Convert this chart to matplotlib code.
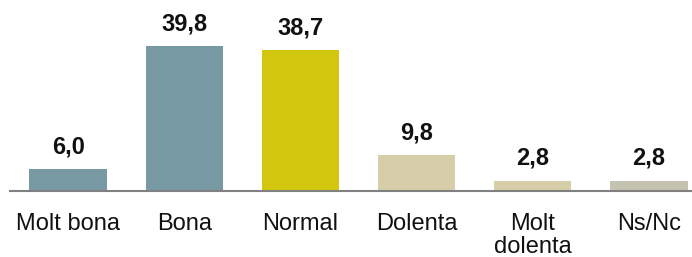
import matplotlib
matplotlib.use('Agg')
import matplotlib.pyplot as plt

plt.rcParams['font.family'] = ['Liberation Sans', 'DejaVu Sans']

categories = ['Molt bona', 'Bona', 'Normal', 'Dolenta', 'Molt\ndolenta', 'Ns/Nc']
values = [6.0, 39.8, 38.7, 9.8, 2.8, 2.8]
colors = ['#7699a4', '#7699a4', '#d2c60f', '#d6cea9', '#d6cea9', '#c4c2b0']

fig = plt.figure(figsize=(6.92, 2.57), dpi=100)
ax = fig.add_axes([10 / 692, 66 / 257, 697 / 692, 191 / 257])

x = range(len(values))
ax.bar(x, values, width=0.665, color=colors)
ax.set_xlim(-0.5, 5.5)
ax.set_ylim(0, 52.5)

for i, v in enumerate(values):
    ax.annotate(f'{v:.1f}'.replace('.', ','), (i, v), xytext=(0, 11.5),
                textcoords='offset points', ha='center', va='baseline',
                fontsize=17, fontweight='bold', color='#111111')

ax.set_xticks(list(x))
ax.set_xticklabels(categories, fontsize=17, color='#111111', linespacing=1.1)
ax.tick_params(axis='x', length=0, pad=15.5)
ax.set_yticks([])
for s in ['top', 'right', 'left']:
    ax.spines[s].set_visible(False)
ax.spines['bottom'].set_color('#808080')
ax.spines['bottom'].set_linewidth(1.5)

fig.savefig('out.png', dpi=100)
